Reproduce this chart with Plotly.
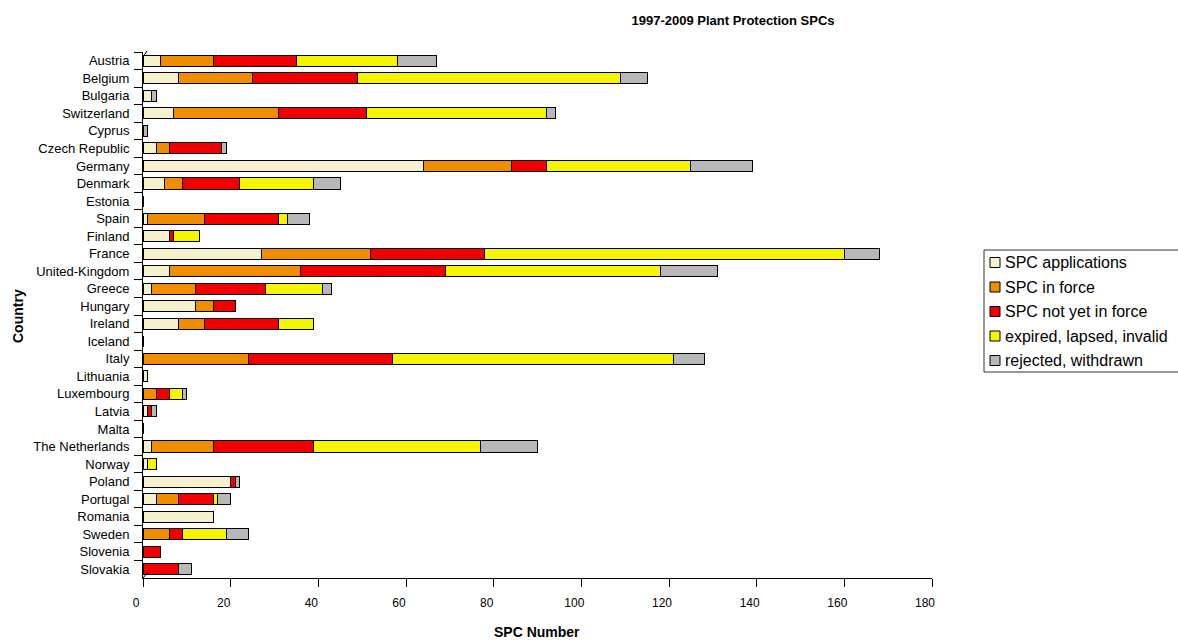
import plotly.graph_objects as go

countries = ["Austria", "Belgium", "Bulgaria", "Switzerland", "Cyprus", "Czech Republic",
             "Germany", "Denmark", "Estonia", "Spain", "Finland", "France", "United-Kingdom",
             "Greece", "Hungary", "Ireland", "Iceland", "Italy", "Lithuania", "Luxembourg",
             "Latvia", "Malta", "The Netherlands", "Norway", "Poland", "Portugal", "Romania",
             "Sweden", "Slovenia", "Slovakia"]

spc_applications = [4, 8, 2, 7, 0, 3, 64, 5, 0, 1, 6, 27, 6, 2, 12, 8, 0, 0, 1, 0,
                    1, 0, 2, 1, 20, 3, 16, 0, 0, 0]
spc_in_force = [12, 17, 0, 24, 0, 3, 20, 4, 0, 13, 0, 25, 30, 10, 4, 6, 0, 24, 0, 3,
                0, 0, 14, 0, 0, 5, 0, 6, 0, 0]
spc_not_yet = [19, 24, 0, 20, 0, 12, 8, 13, 0, 17, 1, 26, 33, 16, 5, 17, 0, 33, 0, 3,
               1, 0, 23, 0, 1, 8, 0, 3, 4, 8]
expired = [23, 60, 0, 41, 0, 0, 33, 17, 0, 2, 6, 82, 49, 13, 0, 8, 0, 64, 0, 3,
           0, 0, 38, 2, 0, 1, 0, 10, 0, 0]
rejected = [9, 6, 1, 2, 1, 1, 14, 6, 0, 5, 0, 8, 13, 2, 0, 0, 0, 7, 0, 1,
            1, 0, 13, 0, 1, 3, 0, 5, 0, 3]

series_names = ["SPC applications", "SPC in force", "SPC not yet in force",
                "expired, lapsed, invalid", "rejected, withdrawn"]
series_values = [spc_applications, spc_in_force, spc_not_yet, expired, rejected]
series_colors = ["#F4F1CC", "#EE8E00", "#F20000", "#F5F500", "#B8B8B8"]

FONT = "Arial, Liberation Sans, sans-serif"

# plot area in pixels
L, R, T, B = 143, 932, 52, 578
PW, PH = R - L, B - T


def px_x(x):
    return (x - L) / PW


def px_y(y):
    return (B - y) / PH


fig = go.Figure()
for name, vals, col in zip(series_names, series_values, series_colors):
    fig.add_trace(go.Bar(
        y=countries, x=vals, name=name, orientation="h",
        marker=dict(color=col, line=dict(color="#000000", width=1)),
        showlegend=False,
    ))

fig.update_layout(
    width=1178, height=642,
    barmode="stack", bargap=0.37,
    paper_bgcolor="white", plot_bgcolor="white",
    margin=dict(l=L, r=1178 - R, t=T, b=642 - B),
    font=dict(family=FONT, color="black", size=12),
    title=dict(text="<b>1997-2009 Plant Protection SPCs</b>", x=733 / 1178, xanchor="center",
               y=1 - 20 / 642, yanchor="middle", font=dict(size=13, family=FONT, color="black")),
    showlegend=False,
)

fig.update_xaxes(range=[0, 180], dtick=20, showgrid=False, zeroline=False,
                 showline=True, linecolor="black", linewidth=1,
                 ticks="outside", ticklen=8, tickcolor="black",
                 ticklabelstandoff=6, ticklabelshift=-7,
                 tickfont=dict(size=12, family=FONT, color="black"))
fig.update_yaxes(autorange="reversed", showgrid=False, zeroline=False,
                 showline=True, linecolor="black", linewidth=1,
                 ticks="outside", ticklen=8, tickcolor="black", tickson="boundaries",
                 ticklabelstandoff=10,
                 tickfont=dict(size=13, family=FONT, color="black"))

fig.add_annotation(text="<b>Country</b>", xref="paper", yref="paper",
                   x=px_x(18), y=px_y(316), textangle=-90,
                   showarrow=False, font=dict(size=14, family=FONT, color="black"),
                   xanchor="center", yanchor="middle")
fig.add_annotation(text="<b>SPC Number</b>", xref="paper", yref="paper",
                   x=px_x(537), y=px_y(632),
                   showarrow=False, font=dict(size=14, family=FONT, color="black"),
                   xanchor="center", yanchor="middle")

# small depth marks of the 3-D wall
fig.add_shape(type="line", xref="paper", yref="paper",
              x0=px_x(143), y0=px_y(578), x1=px_x(148), y1=px_y(572),
              line=dict(color="black", width=1))
fig.add_shape(type="line", xref="paper", yref="paper",
              x0=px_x(143), y0=px_y(57), x1=px_x(147), y1=px_y(51),
              line=dict(color="black", width=1))

# legend drawn manually
leg_x0, leg_y0, leg_y1 = 984, 250, 372
fig.add_shape(type="rect", xref="paper", yref="paper",
              x0=px_x(leg_x0), x1=px_x(1185), y0=px_y(leg_y0), y1=px_y(leg_y1),
              line=dict(color="#333333", width=1), fillcolor="white", layer="above")
item_y = [262.5, 287, 311.5, 336, 360.5]
for name, col, yy in zip(series_names, series_colors, item_y):
    fig.add_shape(type="rect", xref="paper", yref="paper",
                  x0=px_x(990), x1=px_x(1000), y0=px_y(yy - 5), y1=px_y(yy + 5),
                  line=dict(color="black", width=1), fillcolor=col, layer="above")
    fig.add_annotation(text=name, xref="paper", yref="paper",
                       x=px_x(1003), y=px_y(yy), xanchor="left", yanchor="middle",
                       showarrow=False, font=dict(size=16, family=FONT, color="black"))

fig.write_html("out.html")
